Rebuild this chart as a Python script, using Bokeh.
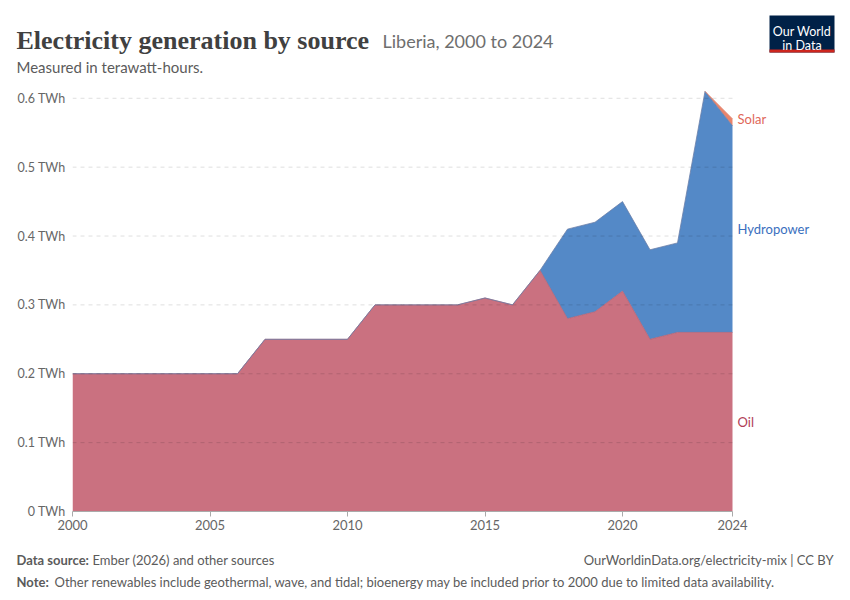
from bokeh.plotting import figure
from bokeh.layouts import column
from bokeh.models import Range1d, FixedTicker, CustomJSTickFormatter
from bokeh.core.properties import value
from bokeh.embed import file_html
from bokeh.resources import INLINE

years = [2000, 2001, 2002, 2003, 2004, 2005, 2006, 2007, 2008, 2009, 2010, 2011, 2012,
         2013, 2014, 2015, 2016, 2017, 2018, 2019, 2020, 2021, 2022, 2023, 2024]
oil = [0.20, 0.20, 0.20, 0.20, 0.20, 0.20, 0.20, 0.25, 0.25, 0.25, 0.25, 0.30, 0.30,
       0.30, 0.30, 0.31, 0.30, 0.35, 0.28, 0.29, 0.32, 0.25, 0.26, 0.26, 0.26]
hydro = [0, 0, 0, 0, 0, 0, 0, 0, 0, 0, 0, 0, 0,
         0, 0, 0, 0, 0, 0.13, 0.13, 0.13, 0.13, 0.13, 0.35, 0.30]
solar = [0, 0, 0, 0, 0, 0, 0, 0, 0, 0, 0, 0, 0,
         0, 0, 0, 0, 0, 0, 0, 0, 0, 0, 0.0, 0.01]

y_ticks = [0, 0.1, 0.2, 0.3, 0.4, 0.5, 0.6]
x_ticks = [2000, 2005, 2010, 2015, 2020, 2024]
series_names = ["Oil", "Hydropower", "Solar"]

FONT = "Lato"
W = 850
HEAD_H, MAIN_H, FOOT_H = 80, 460, 60


def text_fig(height):
    f = figure(width=W, height=height, output_backend="svg", toolbar_location=None,
               x_range=Range1d(0, W), y_range=Range1d(height, 0),
               x_axis_location=None, y_axis_location=None, min_border=0)
    f.outline_line_color = None
    f.grid.grid_line_color = None
    f.frame_align = False
    return f


def put(f, x, y, text, size, color, font=FONT, style="normal", align="left"):
    f.text(x=[x], y=[y], text=[text], text_font=value(font), text_font_size=size,
           text_color=color, text_font_style=style, text_align=align,
           text_baseline="alphabetic")


# ---- header ----
head = text_fig(HEAD_H)
put(head, 16, 40, "Electricity generation by source", "26px", "#404040",
    font="Liberation Serif", style="bold")
put(head, 382, 40, "Liberia, 2000 to 2024", "18px", "#6e6e6e")
put(head, 16, 66, "Measured in terawatt-hours.", "15px", "#5b5b5b")
head.quad(left=769, right=834, top=15, bottom=52, fill_color="#002147", line_color=None)
head.quad(left=769, right=834, top=49, bottom=52, fill_color="#ce261e", line_color=None)
put(head, 801.5, 31, "Our World", "12.5px", "#ffffff", align="center")
put(head, 801.5, 45, "in Data", "12.5px", "#ffffff", align="center")

# ---- main chart ----
left_px, right_px, plot_w = 72, 118, 660
top_px, bottom_px = 4, 29
y_max = 0.62
x_end = 2024 + right_px * (2024 - 2000) / plot_w

p = figure(width=W, height=MAIN_H, output_backend="svg", toolbar_location=None,
           x_range=Range1d(2000, x_end), y_range=Range1d(0, y_max),
           min_border_left=left_px, min_border_right=0,
           min_border_top=top_px, min_border_bottom=bottom_px)
p.outline_line_color = None
p.grid.grid_line_color = None
p.frame_align = False

p.yaxis.ticker = FixedTicker(ticks=y_ticks)
p.yaxis.formatter = CustomJSTickFormatter(code="return (tick == 0 ? '0' : tick.toFixed(1)) + ' TWh';")
p.yaxis.axis_line_color = None
p.yaxis.major_tick_line_color = None
p.yaxis.major_tick_out = 0
p.yaxis.major_tick_in = 0
p.yaxis.minor_tick_line_color = None
p.yaxis.major_label_text_font = FONT
p.yaxis.major_label_text_font_size = "12.5px"
p.yaxis.major_label_text_color = "#666666"
p.yaxis.major_label_standoff = 7

p.xaxis.ticker = FixedTicker(ticks=x_ticks)
p.xaxis.bounds = (years[0], years[-1])
p.xaxis.axis_line_color = "#aaaaaa"
p.xaxis.major_tick_line_color = "#aaaaaa"
p.xaxis.major_tick_out = 5
p.xaxis.major_tick_in = 0
p.xaxis.minor_tick_line_color = None
p.xaxis.major_label_text_font = FONT
p.xaxis.major_label_text_font_size = "13px"
p.xaxis.major_label_text_color = "#666666"
p.xaxis.major_label_standoff = 3

# stacked areas
top_oil = oil
top_hydro = [a + b for a, b in zip(oil, hydro)]
top_solar = [a + b for a, b in zip(top_hydro, solar)]
zero = [0] * len(years)

p.varea(x=years, y1=zero, y2=top_oil, fill_color="#ca7180")
p.varea(x=years, y1=top_oil, y2=top_hydro, fill_color="#5489c7")
p.varea(x=years, y1=top_hydro, y2=top_solar, fill_color="#e8846c")
p.line(years, top_oil, line_color="#b86070", line_width=0.8)
p.line(years, top_hydro, line_color="#6b7fa8", line_width=0.8)
p.line(years[-2:], top_solar[-2:], line_color="#e07a62", line_width=0.8)

# dashed horizontal grid lines drawn faintly over the areas, stopping at the last year
p.segment(x0=[years[0]] * len(y_ticks), x1=[years[-1]] * len(y_ticks), y0=y_ticks,
          y1=y_ticks, line_color="#000000", line_alpha=0.13,
          line_dash="4 4", line_width=1)

# labels at the right end of each band
label_y = [oil[-1] / 2, oil[-1] + hydro[-1] / 2, top_solar[-1]]
label_colors = ["#b13d56", "#3a6fbe", "#e0675a"]
p.text(x=[years[-1]] * 3, y=label_y, text=series_names, x_offset=5,
       text_font=value(FONT), text_font_size="13px", text_color=label_colors,
       text_baseline="middle")

# ---- footer ----
foot = text_fig(FOOT_H)
put(foot, 16, 19, "Data source:", "13px", "#5b5b5b", style="bold")
put(foot, 92, 19, "Ember (2026) and other sources", "13px", "#5b5b5b")
put(foot, 833, 19, "OurWorldinData.org/electricity-mix | CC BY", "13px", "#5b5b5b", align="right")
put(foot, 16, 41, "Note:", "13px", "#5b5b5b", style="bold")
put(foot, 54, 41, "Other renewables include geothermal, wave, and tidal; bioenergy may be included prior to 2000 due to limited data availability.",
    "13px", "#5b5b5b")

layout = column(head, p, foot, spacing=0)
open("out.html", "w").write(file_html(layout, INLINE))
